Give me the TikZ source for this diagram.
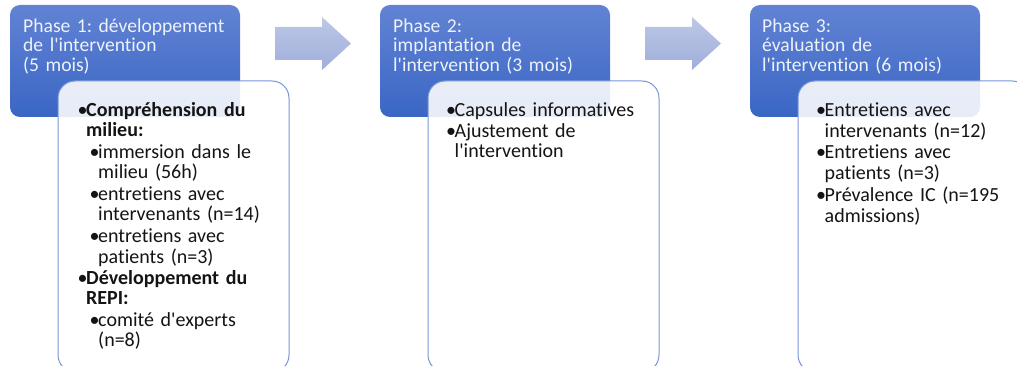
\documentclass[tikz,border=0pt]{standalone}
\usepackage{fontspec}
\setmainfont{Carlito}[Ligatures={TeXOff,CommonOff}]
\definecolor{bluetop}{RGB}{98,131,212}
\definecolor{bluebot}{RGB}{58,102,196}
\definecolor{phasetext}{RGB}{238,242,250}
\definecolor{arrtop}{RGB}{188,200,231}
\definecolor{arrbot}{RGB}{160,174,219}
\definecolor{boxline}{RGB}{120,150,215}
\definecolor{bodytext}{RGB}{20,20,20}
\newcommand\liststrut{\rule{0pt}{16pt}}
% one bullet item: optional indent, then lines separated by \\
\newcommand\itm[2][0pt]{\par\noindent\hspace*{#1}\makebox[8.5pt][l]{•}%
  \begin{tabular}[t]{@{}l@{}}#2\end{tabular}}
\tikzset{
  x=1pt,y=1pt,
  phasebox/.style={rounded corners=10pt, top color=bluetop, bottom color=bluebot, draw=none},
  detailbox/.style={rounded corners=17pt, fill=white, fill opacity=0.88, draw=boxline, line width=1pt},
  phasetxt/.style={anchor=north west, inner sep=0pt, text width=225pt, align=left, text=phasetext,
    font=\fontsize{19.6}{19.5}\selectfont\frenchspacing},
  listtxt/.style={anchor=north west, inner sep=0pt, text width=215pt, align=left, text=bodytext,
    font=\fontsize{20}{20}\selectfont\frenchspacing,
    execute at begin node={\setlength{\parskip}{0.5pt}\setlength{\lineskip}{1pt}}},
  stagearrow/.style={top color=arrtop, bottom color=arrbot, draw=none},
}
\begin{document}
\begin{tikzpicture}
\useasboundingbox (0,0) rectangle (1017,-366);
% arrows
\foreach \dx in {0,370}{
  \shade[stagearrow] (275+\dx,-27) -- (322+\dx,-27) -- (322+\dx,-17) -- (351+\dx,-43.5)
     -- (322+\dx,-70) -- (322+\dx,-60) -- (275+\dx,-60) -- cycle;
}
% phase boxes
\shade[phasebox] (10,-5) rectangle (240,-117);
\shade[phasebox] (380,-5) rectangle (610,-117);
\shade[phasebox] (750,-5) rectangle (980,-117);
\node[phasetxt] (t1) at (23,-16) {\liststrut Phase 1: développement\\de l'intervention\\(5 mois)};
\node[phasetxt] (t2) at (393,-16) {\liststrut Phase 2:\\implantation de\\l'intervention (3 mois)};
\node[phasetxt] (t3) at (762,-16) {\liststrut Phase 3:\\évaluation de\\l'intervention (6 mois)};
% detail boxes
\draw[detailbox] (58,-81) rectangle (289,-372);
\draw[detailbox] (428,-81) rectangle (659,-372);
\draw[detailbox] (798,-81) rectangle (1029,-372);
\node[listtxt] (l1) at (77.5,-96) {%
\itm{\liststrut\textbf{Compréhension du}\\\textbf{milieu:}}%
\itm[12pt]{immersion dans le\\milieu (56h)}%
\itm[12pt]{entretiens avec\\intervenants (n=14)}%
\itm[12pt]{entretiens avec\\patients (n=3)}%
\itm{\textbf{Développement du}\\\textbf{REPI:}}%
\itm[12pt]{comité d'experts\\(n=8)}\par};
\node[listtxt] (l2) at (446,-96) {%
\itm{\liststrut Capsules informatives}%
\itm{Ajustement de\\l'intervention}\par};
\node[listtxt] (l3) at (816,-96) {%
\itm{\liststrut Entretiens avec\\intervenants (n=12)}%
\itm{Entretiens avec\\patients (n=3)}%
\itm{Prévalence IC (n=195\\admissions)}\par};
\end{tikzpicture}
\end{document}
